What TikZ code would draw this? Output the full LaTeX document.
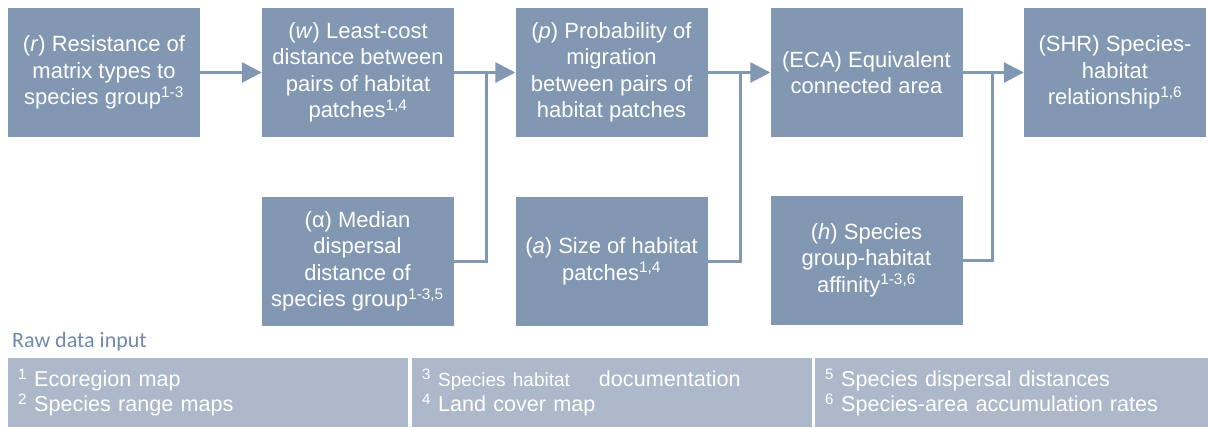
\documentclass[tikz,border=0pt]{standalone}
\usepackage{fontspec}
\setmainfont{Liberation Sans}
\newfontfamily\carlito{Carlito}
\usetikzlibrary{arrows.meta}
\definecolor{boxblue}{RGB}{130,151,177}
\definecolor{rawblue}{RGB}{173,184,202}
\definecolor{captionblue}{RGB}{112,137,173}

\begin{document}
\begin{tikzpicture}[x=1pt,y=-1pt,
	box/.style={fill=boxblue,text=white,minimum width=192pt,minimum height=128pt,inner sep=0pt,align=center,font=\fontsize{22}{26.5}\selectfont},
	rawbox/.style={fill=rawblue,text=white,minimum height=69pt,inner xsep=10pt,inner ysep=0pt,align=left,font=\fontsize{21.6}{25}\selectfont},
	flow/.style={draw=boxblue,line width=3pt,-{Triangle[length=20pt,width=20pt]}},
	link/.style={draw=boxblue,line width=3pt}]
		\useasboundingbox (0,0) rectangle (1208,428);
		
		% top row
		\node (R)[box] at (104,72.5) {(\textit{r}) Resistance of\\matrix types to\\species group\textsuperscript{1-3}};
		\node (W)[box] at (358,72.5) {(\textit{w}) Least-cost\\distance between\\pairs of habitat\\patches\textsuperscript{1,4}};
		\node (P)[box] at (611.5,72.5) {(\textit{p}) Probability of\\migration\\between pairs of\\habitat patches};
		\node (ECA)[box] at (866.5,72.5) {(ECA) Equivalent\\connected area};
		\node (SHR)[box,minimum width=182pt] at (1115,72.5) {(SHR) Species-\\habitat\\relationship\textsuperscript{1,6}};
		
		% bottom row
		\node (Alpha)[box,minimum height=129pt] at (357.5,261.5) {(α) Median\\dispersal\\distance of\\species group\textsuperscript{1-3,5}};
		\node (A)[box,minimum height=129pt] at (611.5,261.5) {(\textit{a}) Size of habitat\\patches\textsuperscript{1,4}};
		\node (H)[box,minimum height=129pt] at (866.5,260) {(\textit{h}) Species\\group-habitat\\affinity\textsuperscript{1-3,6}};
		
		\coordinate (J1) at (486,72.5);
		\coordinate (J2) at (740,72.5);
		\coordinate (J3) at (992.5,72.5);
		
		\draw[flow] (R) -- (W);
		\draw[flow] (W) -- (P);
		\draw[flow] (P) -- (ECA);
		\draw[flow] (ECA) -- (SHR);
		\draw[link] (Alpha.east) -| (J1);
		\draw[link] (A.east) -| (J2);
		\draw[link] (H.east) -| (J3);
		
		% raw data legend
		\node (RawLabel)[anchor=base west,inner sep=0pt,text=captionblue,font=\carlito\fontsize{22}{24}\selectfont] at (12,347) {Raw data input};
		\node (Raw1)[rawbox,minimum width=400pt,text width=380pt] at (208,392.5) {\textsuperscript{1} Ecoregion map\\\textsuperscript{2} Species range maps};
		\node (Raw2)[rawbox,minimum width=400pt,text width=380pt] at (612,392.5) {\textsuperscript{3} {\fontsize{19}{25}\selectfont Species habitat}\hspace{29pt}documentation\\\textsuperscript{4} Land cover map};
		\node (Raw3)[rawbox,minimum width=393pt,text width=373pt] at (1011.5,392.5) {\textsuperscript{5} Species dispersal distances\\\textsuperscript{6} Species-area accumulation rates};
	\end{tikzpicture}
\end{document}
